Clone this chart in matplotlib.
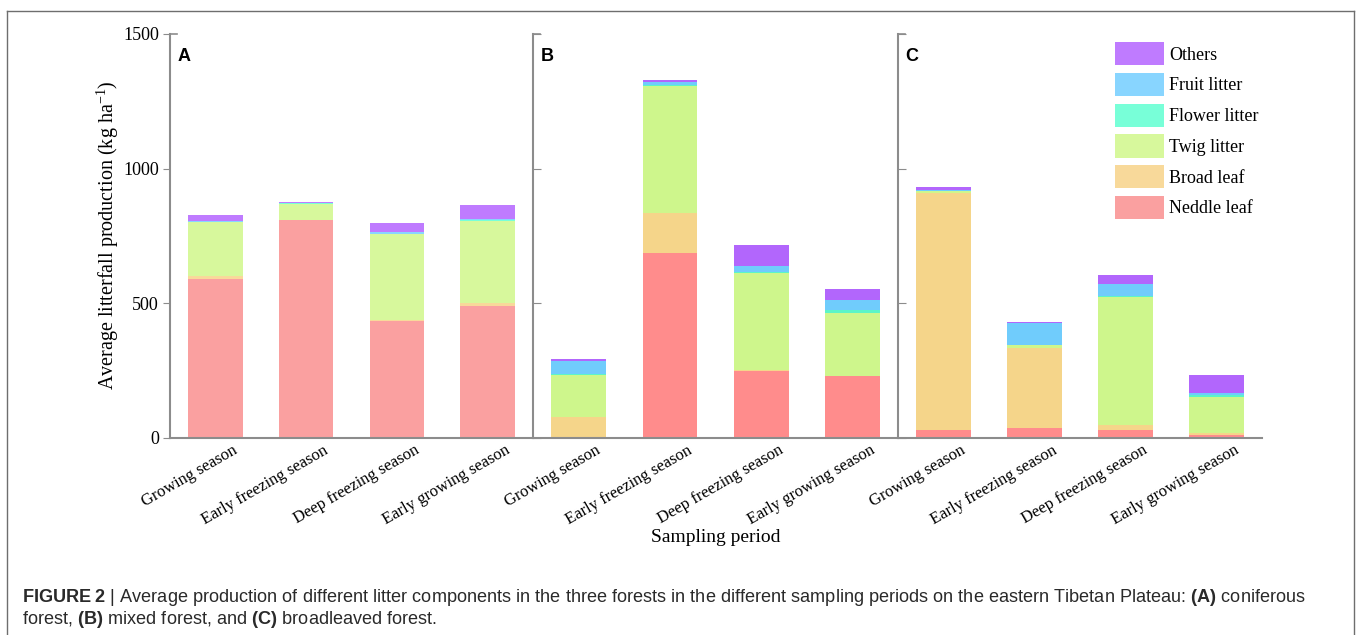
import matplotlib.pyplot as plt
import matplotlib.transforms as mtransforms
import numpy as np
from matplotlib.lines import Line2D
from matplotlib.patches import Patch

plt.rcParams['font.family'] = 'Liberation Serif'
plt.rcParams['mathtext.fontset'] = 'custom'
plt.rcParams['mathtext.rm'] = 'Liberation Serif'
plt.rcParams['mathtext.it'] = 'Liberation Serif:italic'
plt.rcParams['mathtext.bf'] = 'Liberation Sans:bold'

seasons = ['Growing season', 'Early freezing season', 'Deep freezing season', 'Early growing season']
components = ['Neddle leaf', 'Broad leaf', 'Twig litter', 'Flower litter', 'Fruit litter', 'Others']
panel_labels = ['A', 'B', 'C']

# litter production (kg ha-1); one row per sampling period, columns follow `components`
coniferous = [[589, 12, 200, 2, 2, 24],
              [811, 0, 59, 1, 1, 4],
              [436, 2, 319, 1, 5, 35],
              [491, 9, 307, 2, 3, 52]]
mixed = [[3, 76, 156, 1, 50, 7],
         [686, 149, 473, 4, 10, 7],
         [250, 3, 361, 2, 23, 78],
         [229, 1, 233, 13, 36, 40]]
broadleaved = [[29, 880, 7, 2, 3, 12],
               [37, 297, 12, 1, 79, 4],
               [29, 19, 474, 6, 45, 33],
               [10, 9, 134, 6, 7, 69]]

colors_light = ['#faa0a0', '#f8d99a', '#d7f89c', '#78ffd8', '#88d5ff', '#bf7bff']
colors_dark = ['#ff8c8c', '#f5d58a', '#cef68c', '#5cf5c8', '#70ccfc', '#b266fc']

W, H = 1358, 635
fig = plt.figure(figsize=(W / 100, H / 100), dpi=100)

panel_x = [170, 533, 898, 1262]
ax_bottom, ax_top = 438, 34
spine_col = '#8c8c8c'

axes = []
for i, data in enumerate([coniferous, mixed, broadleaved]):
    x0, x1 = panel_x[i], panel_x[i + 1]
    ax = fig.add_axes([x0 / W, 1 - ax_bottom / H, (x1 - x0) / W, (ax_bottom - ax_top) / H])
    cols = colors_light if i == 0 else colors_dark
    vals = np.array(data, dtype=float)
    x = np.arange(len(seasons))
    bottom = np.zeros(len(seasons))
    for j, comp in enumerate(components):
        ax.bar(x, vals[:, j], bottom=bottom, width=0.6, color=cols[j], linewidth=0)
        bottom += vals[:, j]

    ax.set_xlim(-0.5, 3.5)
    ax.set_ylim(0, 1500)
    ax.set_yticks([0, 500, 1000, 1500])
    ax.set_xticks(x)
    ax.tick_params(axis='x', length=0, pad=3)
    if i == 0:
        ax.tick_params(axis='y', direction='out', length=5, color=spine_col, labelsize=13, pad=3)
    else:
        ax.tick_params(axis='y', direction='in', length=6, color=spine_col, labelleft=False)
    ax.set_xticklabels(seasons, rotation=30, ha='right', fontsize=12)
    # push the rotated labels right so they end just past the bar centre
    offset = mtransforms.ScaledTranslation(25 / 100, 0, fig.dpi_scale_trans)
    for lab in ax.get_xticklabels():
        lab.set_transform(lab.get_transform() + offset)
    # small cap at the top of each vertical axis
    ax.plot([0, 0.018], [1, 1], transform=ax.transAxes, color=spine_col, lw=1.2, clip_on=False)

    for side in ['top', 'right']:
        ax.spines[side].set_visible(False)
    for side in ['left', 'bottom']:
        ax.spines[side].set_color(spine_col)
        ax.spines[side].set_linewidth(1.5)

    ax.text(0.02, 0.965, panel_labels[i], transform=ax.transAxes, ha='left', va='top',
            fontsize=13, fontweight='bold', family='Liberation Sans')
    axes.append(ax)

handles = [Patch(facecolor=c, edgecolor='none') for c in colors_light]
leg = axes[2].legend(handles[::-1], components[::-1], loc='upper left',
                     bbox_to_anchor=(1115 / W, 1 - 42 / H), bbox_transform=fig.transFigure,
                     frameon=False, fontsize=13, handlelength=2.7, handleheight=1.6,
                     labelspacing=0.42, handletextpad=0.3, borderpad=0, borderaxespad=0)

fig.text(108 / W, 1 - 235 / H, r'Average litterfall production (kg ha$^{-1}$)',
         rotation=90, ha='center', va='center', fontsize=14.5)
fig.text(716 / W, 1 - 537 / H, 'Sampling period', ha='center', va='center', fontsize=14)

caption1 = (r'$\bf{FIGURE\ 2}$ | Average production of different litter components in the three forests '
            r'in the different sampling periods on the eastern Tibetan Plateau: $\bf{(A)}$ coniferous')
caption2 = r'forest, $\bf{(B)}$ mixed forest, and $\bf{(C)}$ broadleaved forest.'
fig.text(22 / W, 1 - 597 / H, caption1, ha='left', va='center', fontsize=13.1,
         family='Liberation Sans', color='#2a2a2a')
fig.text(22 / W, 1 - 620 / H, caption2, ha='left', va='center', fontsize=13.1,
         family='Liberation Sans', color='#2a2a2a')

# outer frame around figure and caption
frame = dict(transform=fig.transFigure, color='#6e6e6e', lw=1)
fig.add_artist(Line2D([7 / W, 7 / W], [0, 1 - 11 / H], **frame))
fig.add_artist(Line2D([7 / W, 1354 / W], [1 - 11 / H, 1 - 11 / H], **frame))
fig.add_artist(Line2D([1354 / W, 1354 / W], [0, 1 - 11 / H], **frame))

fig.savefig('out.png', dpi=100)
